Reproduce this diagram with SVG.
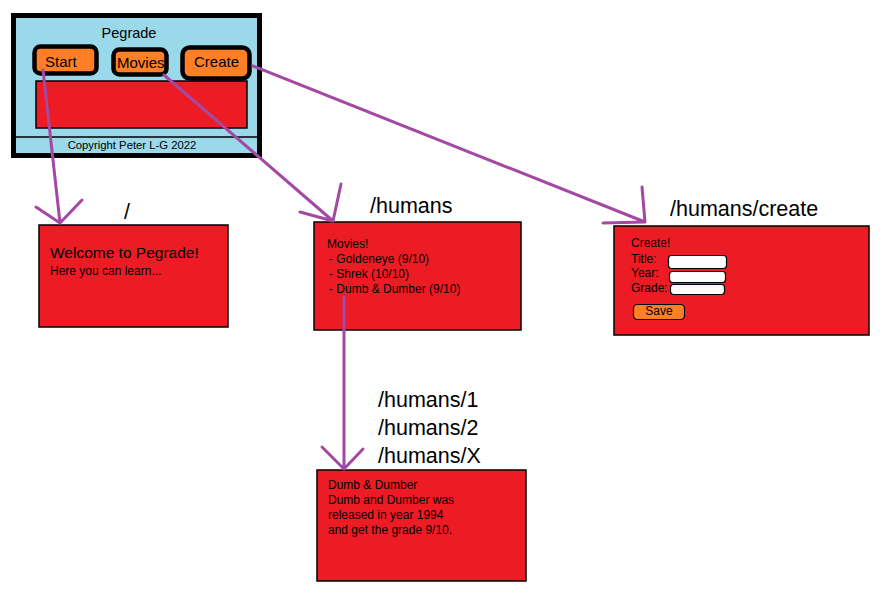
<svg xmlns="http://www.w3.org/2000/svg" width="894" height="600" viewBox="0 0 894 600">
<style>
text{font-family:"Liberation Sans",Arial,sans-serif;fill:#000}
.page{fill:#ED1C24;stroke:#000;stroke-width:1.5}
.btn{fill:#FF7F27;stroke:#000;stroke-width:4.5}
.inp{fill:#fff;stroke:#000;stroke-width:1.2}
.route{font-size:21.5px}
.small{font-size:12px}
.con{fill:none;stroke:#A349A4;stroke-width:3;stroke-linecap:round;stroke-linejoin:round}
</style>
<rect width="894" height="600" fill="#fff"/>
<g id="app">
<rect x="13.5" y="15.5" width="246" height="140" fill="#99D9EA" stroke="#000" stroke-width="5"/>
<line x1="16" y1="137" x2="257" y2="137" stroke="#000" stroke-width="1.5"/>
<rect x="36" y="81" width="211" height="47" class="page"/>
<text x="129" y="38" font-size="14.5" text-anchor="middle">Pegrade</text>
<text x="132" y="149" font-size="11.3" text-anchor="middle">Copyright Peter L-G 2022</text>
</g>
<g id="btn-start">
<rect x="34.5" y="46.5" width="62" height="27" rx="6" class="btn"/>
<text x="45" y="67" font-size="15">Start</text>
</g>
<g id="btn-movies">
<rect x="113.5" y="49.5" width="53" height="25" rx="6" class="btn"/>
<text x="117" y="68" font-size="15">Movies</text>
</g>
<g id="btn-create">
<rect x="182.5" y="47.5" width="67" height="31" rx="7" class="btn"/>
<text x="194" y="67" font-size="15">Create</text>
</g>
<g id="page-start">
<text x="127" y="219" class="route" text-anchor="middle">/</text>
<rect x="39" y="225" width="189" height="102" class="page"/>
<text x="50" y="258" font-size="15.5">Welcome to Pegrade!</text>
<text x="50" y="275" class="small">Here you can learn...</text>
</g>
<g id="page-humans">
<text x="370" y="213" class="route">/humans</text>
<rect x="314" y="222" width="207" height="108" class="page"/>
<text x="327" y="248" class="small">Movies!</text>
<text x="329" y="263" class="small">- Goldeneye (9/10)</text>
<text x="329" y="278" class="small">- Shrek (10/10)</text>
<text x="329" y="293" class="small">- Dumb &amp; Dumber (9/10)</text>
</g>
<g id="page-create">
<text x="670" y="216" class="route">/humans/create</text>
<rect x="614" y="226" width="255" height="109" class="page"/>
<text x="631" y="247" class="small">Create!</text>
<text x="631" y="263" class="small">Title:</text>
<text x="631" y="277" class="small">Year:</text>
<text x="631" y="292" class="small">Grade:</text>
<rect x="668.5" y="255.5" width="58" height="13" rx="3" class="inp"/>
<rect x="669.5" y="271.5" width="56" height="11" rx="3" class="inp"/>
<rect x="670.5" y="284.5" width="54" height="10" rx="3" class="inp"/>
<rect x="633.5" y="304.5" width="51" height="15" rx="4" fill="#FF7F27" stroke="#000" stroke-width="1.2"/>
<text x="659" y="315" class="small" text-anchor="middle">Save</text>
</g>
<g id="page-detail">
<text x="378" y="407" class="route">/humans/1</text>
<text x="378" y="435" class="route">/humans/2</text>
<text x="378" y="463" class="route">/humans/X</text>
<rect x="317" y="470" width="209" height="111" class="page"/>
<text x="328" y="489" class="small">Dumb &amp; Dumber</text>
<text x="328" y="504" class="small">Dumb and Dumber was</text>
<text x="328" y="519" class="small">released in year 1994</text>
<text x="328" y="534" class="small">and get the grade 9/10.</text>
</g>
<g id="connectors">
<path class="con" d="M43 70 L60 223 M36 207 L60 223 L82 200"/>
<path class="con" d="M164 75 L333 221 M300 212 L333 221 L341 184"/>
<path class="con" d="M253 66 L645 222 M603 223 L645 222 L642 187"/>
<path class="con" d="M344 297 L344 469 M322 447 L344 469 L363 449"/>
</g>
</svg>
